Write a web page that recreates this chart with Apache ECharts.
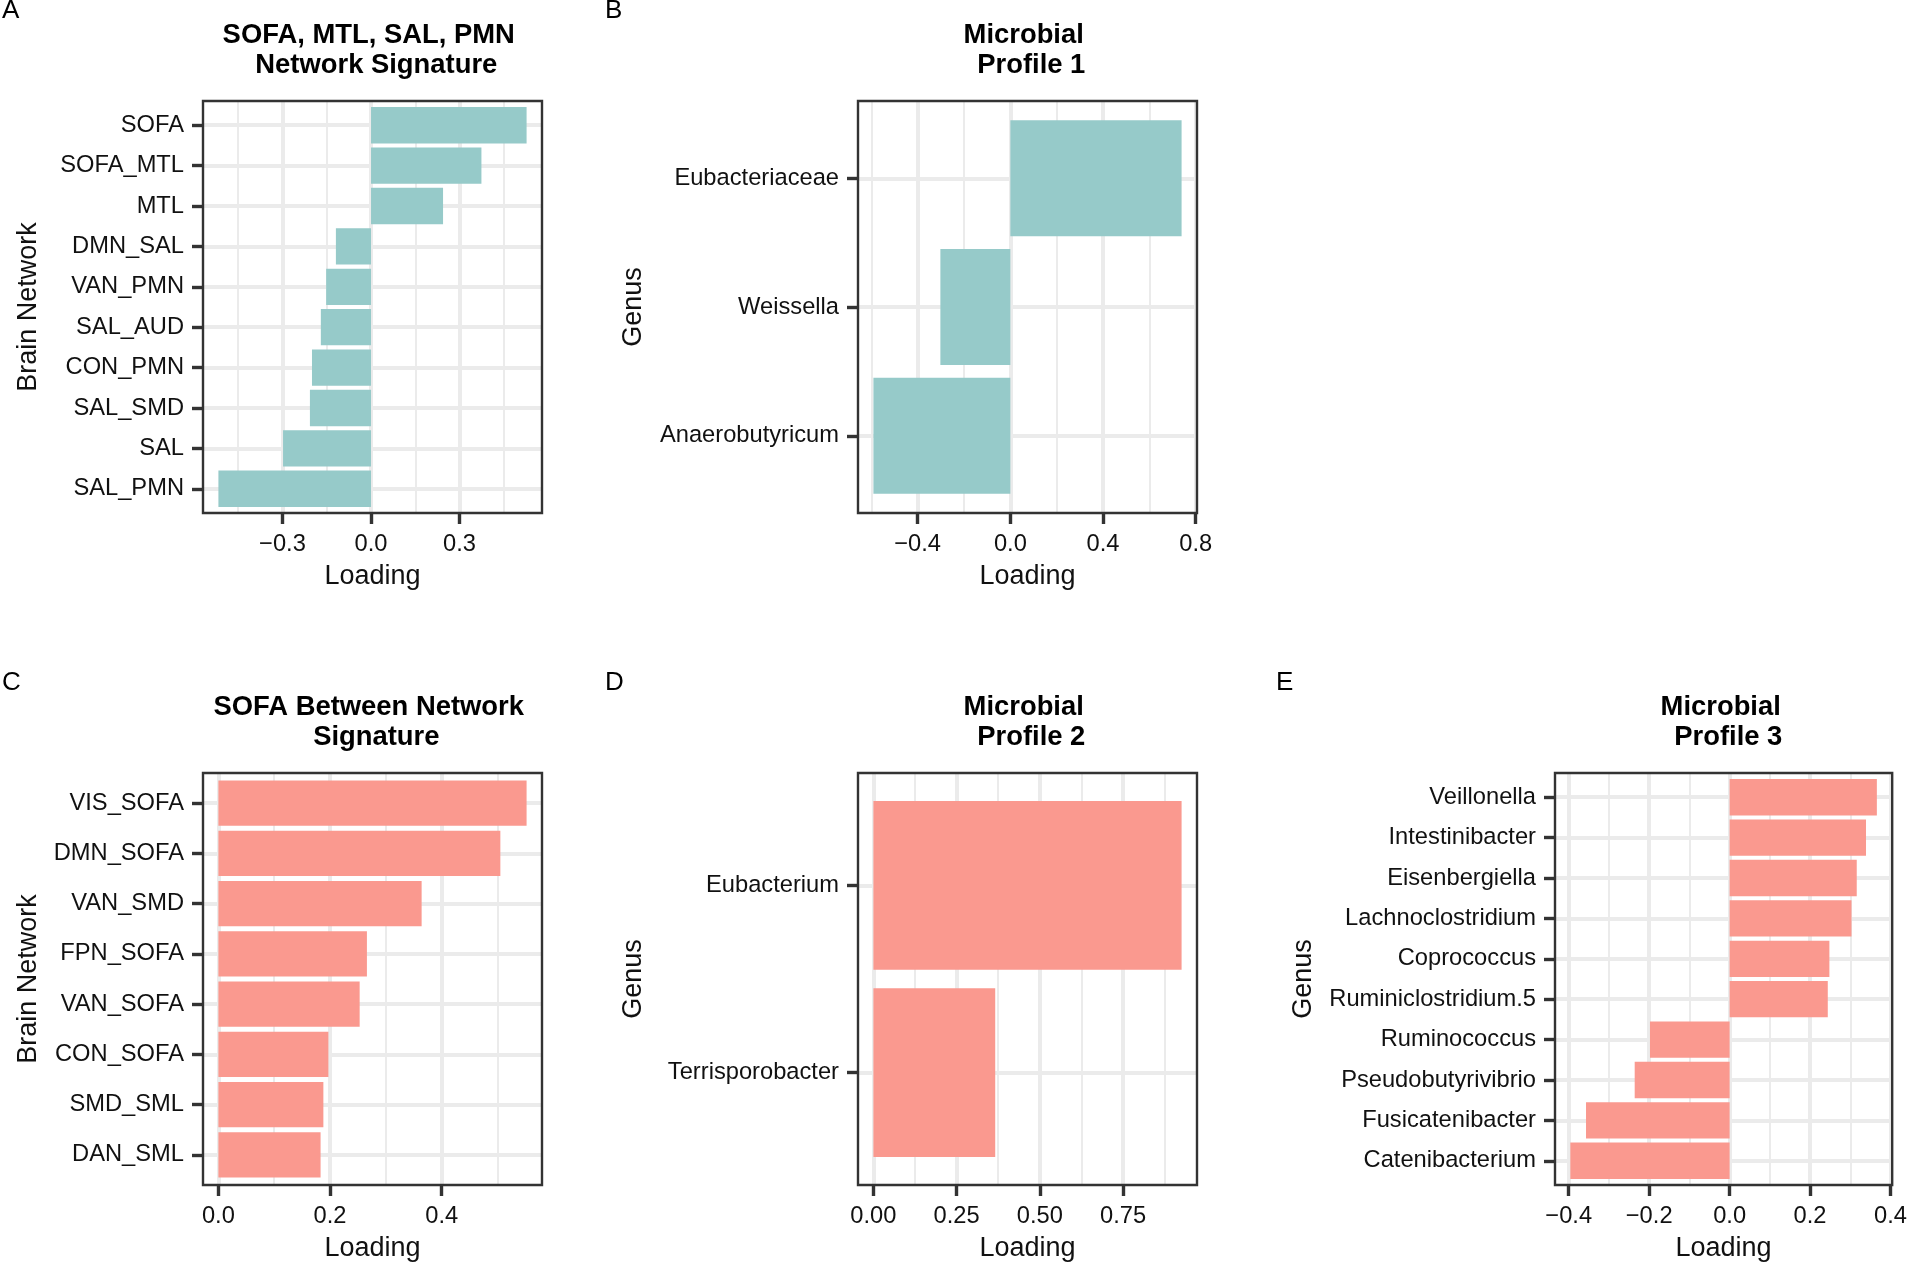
<!DOCTYPE html>
<html>
<head>
<meta charset="utf-8">
<script src="https://cdn.jsdelivr.net/npm/echarts@6/dist/echarts.min.js"></script>
<style>
html,body{margin:0;padding:0;background:#fff;}
#chart{width:1910px;height:1265px;}
</style>
</head>
<body>
<div id="chart"></div>
<script>
// ---- Data (categories listed top to bottom) ----
const catsA = ['SOFA','SOFA_MTL','MTL','DMN_SAL','VAN_PMN','SAL_AUD','CON_PMN','SAL_SMD','SAL','SAL_PMN'];
const valsA = [0.527,0.374,0.244,-0.119,-0.152,-0.170,-0.200,-0.207,-0.298,-0.517];

const catsB = ['Eubacteriaceae','Weissella','Anaerobutyricum'];
const valsB = [0.739,-0.302,-0.591];

const catsC = ['VIS_SOFA','DMN_SOFA','VAN_SMD','FPN_SOFA','VAN_SOFA','CON_SOFA','SMD_SML','DAN_SML'];
const valsC = [0.552,0.505,0.364,0.266,0.253,0.197,0.188,0.183];

const catsD = ['Eubacterium','Terrisporobacter'];
const valsD = [0.926,0.366];

const catsE = ['Veillonella','Intestinibacter','Eisenbergiella','Lachnoclostridium','Coprococcus','Ruminiclostridium.5','Ruminococcus','Pseudobutyrivibrio','Fusicatenibacter','Catenibacterium'];
const valsE = [0.366,0.339,0.316,0.303,0.248,0.244,-0.198,-0.236,-0.357,-0.396];

// ---- Tick labels (major) and minor grid positions ----
const ticksA = [-0.3,0,0.3];           const minorA = [-0.45,-0.15,0.15,0.45];
const ticksB = [-0.4,0,0.4,0.8];       const minorB = [-0.6,-0.2,0.2,0.6];
const ticksC = [0,0.2,0.4];            const minorC = [0.1,0.3,0.5];
const ticksD = [0,0.25,0.5,0.75];      const minorD = [0.125,0.375,0.625,0.875];
const ticksE = [-0.4,-0.2,0,0.2,0.4];  const minorE = [-0.3,-0.1,0.1,0.3];

const titles = ['SOFA, MTL, SAL, PMN \n Network Signature','Microbial \n Profile 1','SOFA Between Network \n Signature','Microbial \n Profile 2','Microbial \n Profile 3'];
const yNames = ['Brain Network','Genus','Brain Network','Genus','Genus'];
const letters = ['A','B','C','D','E'];

const TEAL = '#96CAC9';
const SALMON = '#FA998F';
const FONT = '"Liberation Sans", Arial, Helvetica, sans-serif';

const panels = [
  {cats:catsA, vals:valsA, ticks:ticksA, minor:minorA, dec:1, color:TEAL,   left:203,  top:101, yGap:174, letter:[2,11]},
  {cats:catsB, vals:valsB, ticks:ticksB, minor:minorB, dec:1, color:TEAL,   left:858,  top:101, yGap:224, letter:[605,11]},
  {cats:catsC, vals:valsC, ticks:ticksC, minor:minorC, dec:1, color:SALMON, left:203,  top:773, yGap:174, letter:[2,683]},
  {cats:catsD, vals:valsD, ticks:ticksD, minor:minorD, dec:2, color:SALMON, left:858,  top:773, yGap:224, letter:[605,683]},
  {cats:catsE, vals:valsE, ticks:ticksE, minor:minorE, dec:1, color:SALMON, left:1555, top:773, yGap:251, letter:[1276,683]}
];
const W = 339, H = 412;

function fmt(dec){
  return function(v){
    const r = Math.round(v * 1000) / 1000;
    const s = Math.abs(r).toFixed(dec);
    return (r < 0 ? '\u2212' : '') + s;
  };
}

const grid = [], xAxis = [], yAxis = [], series = [], title = [], graphic = [];

panels.forEach(function(p, i){
  const n = p.cats.length;
  const lo = Math.min(0, Math.min.apply(null, p.vals));
  const hi = Math.max(0, Math.max.apply(null, p.vals));
  const pad = 0.05 * (hi - lo);
  const xmin = lo - pad, xmax = hi + pad;

  grid.push({left:p.left, top:p.top, width:W, height:H, show:true,
    borderColor:'#333333', borderWidth:2.4, backgroundColor:'transparent', z:5, containLabel:false});

  // major x axis
  xAxis.push({
    gridIndex:i, type:'value', min:xmin, max:xmax, position:'bottom',
    axisLine:{show:false, onZero:false},
    axisTick:{show:true, customValues:p.ticks, length:11, lineStyle:{color:'#333333', width:3.4}},
    axisLabel:{show:true, customValues:p.ticks, formatter:fmt(p.dec), fontSize:23.7, color:'#111', margin:19, fontFamily:FONT},
    splitLine:{show:true, lineStyle:{color:'#EBEBEB', width:4}},
    minorSplitLine:{show:false},
    name:'Loading', nameLocation:'middle', nameGap:64,
    nameTextStyle:{fontSize:27, color:'#111', fontFamily:FONT, verticalAlign:'middle'}
  });
  // minor x gridlines
  xAxis.push({
    gridIndex:i, type:'value', min:xmin, max:xmax, position:'bottom',
    axisLine:{show:false, onZero:false},
    axisTick:{show:false, customValues:p.minor},
    axisLabel:{show:false, customValues:p.minor},
    splitLine:{show:true, lineStyle:{color:'#EBEBEB', width:2}}
  });

  const yTicks = [];
  for (let k = 1; k <= n; k++) yTicks.push(k);
  yAxis.push({
    gridIndex:i, type:'value', min:0.4, max:n + 0.6, position:'left',
    axisLine:{show:false, onZero:false},
    axisTick:{show:true, customValues:yTicks, length:11, lineStyle:{color:'#333333', width:3.4}},
    axisLabel:{show:true, customValues:yTicks, fontSize:23.7, color:'#111', margin:19, fontFamily:FONT,
      formatter:(function(cats){ return function(v){ return cats[n - Math.round(v)] || ''; }; })(p.cats)},
    splitLine:{show:true, lineStyle:{color:'#EBEBEB', width:4}},
    name:yNames[i], nameLocation:'middle', nameGap:p.yGap, nameRotate:90,
    nameTextStyle:{fontSize:27, color:'#111', fontFamily:FONT, verticalAlign:'middle'}
  });

  const data = p.vals.map(function(v, j){ return [v, n - j]; });
  series.push({
    type:'custom', coordinateSystem:'cartesian2d', xAxisIndex:2 * i, yAxisIndex:i, z:3,
    encode:{x:0, y:1},
    data:data,
    renderItem:(function(color){
      return function(params, api){
        const x = api.value(0), y = api.value(1);
        const a = api.coord([0, y + 0.45]);
        const b = api.coord([x, y - 0.45]);
        return {type:'rect', shape:{x:Math.min(a[0], b[0]), y:Math.min(a[1], b[1]),
          width:Math.abs(b[0] - a[0]), height:Math.abs(b[1] - a[1])},
          style:{fill:color}};
      };
    })(p.color)
  });

  title.push({
    text:titles[i], left:p.left + W / 2, top:p.top - 81, textAlign:'center', padding:0,
    textStyle:{fontSize:27.4, fontWeight:'bold', color:'#000', lineHeight:30, fontFamily:FONT}
  });

  graphic.push({type:'text', x:p.letter[0], y:p.letter[1],
    style:{text:letters[i], fontSize:26, fill:'#000', font:'26px ' + FONT, verticalAlign:'middle', align:'left'}});
});

const chart = echarts.init(document.getElementById('chart'), null, {renderer:'canvas'});
chart.setOption({
  backgroundColor:'#ffffff',
  animation:false,
  title:title, grid:grid, xAxis:xAxis, yAxis:yAxis, series:series, graphic:graphic
});
</script>
</body>
</html>
